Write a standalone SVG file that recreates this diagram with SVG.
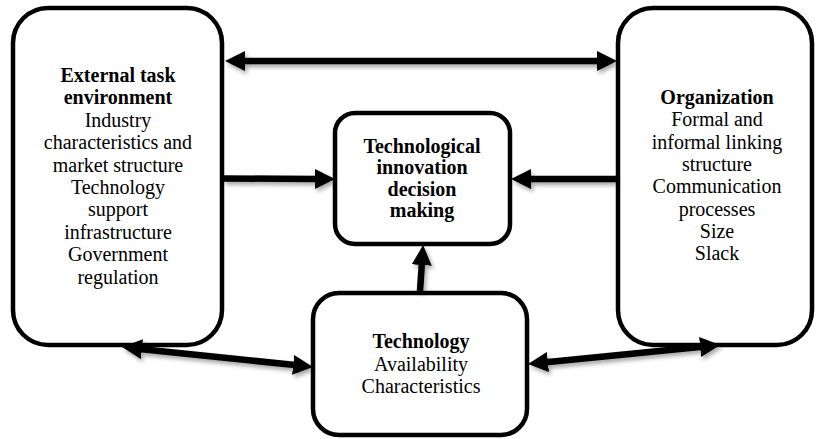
<svg xmlns="http://www.w3.org/2000/svg" width="819" height="439" viewBox="0 0 819 439">
<style>
.box{fill:#fff;stroke:#000;stroke-width:4.5}
.t{font-family:"Liberation Serif","Times New Roman",serif;font-size:20px;fill:#000;text-anchor:middle}
.b{font-weight:bold}
.c{stroke:#000;stroke-width:6.5;fill:none;marker-end:url(#ah);marker-start:url(#ah)}
.s{stroke:#000;stroke-width:6.5;fill:none;marker-end:url(#ah)}
</style>
<defs>
<marker id="ah" markerUnits="userSpaceOnUse" markerWidth="22" markerHeight="22" refX="2" refY="10" orient="auto-start-reverse" viewBox="0 0 22 20">
<path d="M0,0 L20,10 L0,20 Z" fill="#000"/>
</marker>
<filter id="sh" x="-10%" y="-50%" width="120%" height="200%">
<feDropShadow dx="2" dy="3" stdDeviation="2" flood-color="#000" flood-opacity="0.35"/>
</filter>
</defs>
<rect width="819" height="439" fill="#fff"/>
<g id="external">
<rect class="box" x="13" y="8" width="209" height="337" rx="35"/>
<text class="t b" x="118" y="82">External task</text>
<text class="t b" x="118" y="104.4">environment</text>
<text class="t" x="118" y="126.8">Industry</text>
<text class="t" x="118" y="149.2">characteristics and</text>
<text class="t" x="118" y="171.6">market structure</text>
<text class="t" x="118" y="194">Technology</text>
<text class="t" x="118" y="216.4">support</text>
<text class="t" x="118" y="238.8">infrastructure</text>
<text class="t" x="118" y="261.2">Government</text>
<text class="t" x="118" y="283.6">regulation</text>
</g>
<g id="organization">
<rect class="box" x="618" y="8" width="194" height="337" rx="35"/>
<text class="t b" x="717" y="104">Organization</text>
<text class="t" x="717" y="126.3">Formal and</text>
<text class="t" x="717" y="148.6">informal linking</text>
<text class="t" x="717" y="170.9">structure</text>
<text class="t" x="717" y="193.2">Communication</text>
<text class="t" x="717" y="215.5">processes</text>
<text class="t" x="717" y="237.8">Size</text>
<text class="t" x="717" y="260.1">Slack</text>
</g>
<g id="decision">
<rect class="box" x="335" y="113" width="175" height="131" rx="20"/>
<text class="t b" x="422" y="153">Technological</text>
<text class="t b" x="422" y="174.3">innovation</text>
<text class="t b" x="422" y="195.6">decision</text>
<text class="t b" x="422" y="216.9">making</text>
</g>
<g id="technology">
<rect class="box" x="313" y="293" width="214" height="142" rx="26"/>
<text class="t b" x="421" y="348">Technology</text>
<text class="t" x="421" y="370.5">Availability</text>
<text class="t" x="421" y="393">Characteristics</text>
</g>
<g id="connectors" filter="url(#sh)">
<line class="c" x1="243" y1="61" x2="599" y2="61"/>
<line class="s" x1="224" y1="178.5" x2="317" y2="179"/>
<line class="s" x1="616" y1="179" x2="529" y2="179"/>
<line class="s" x1="420" y1="291" x2="421.9" y2="263"/>
<line class="c" x1="139.9" y1="348.9" x2="295.1" y2="365.1"/>
<line class="c" x1="545.9" y1="362.2" x2="702.1" y2="346.8"/>
</g>
</svg>
